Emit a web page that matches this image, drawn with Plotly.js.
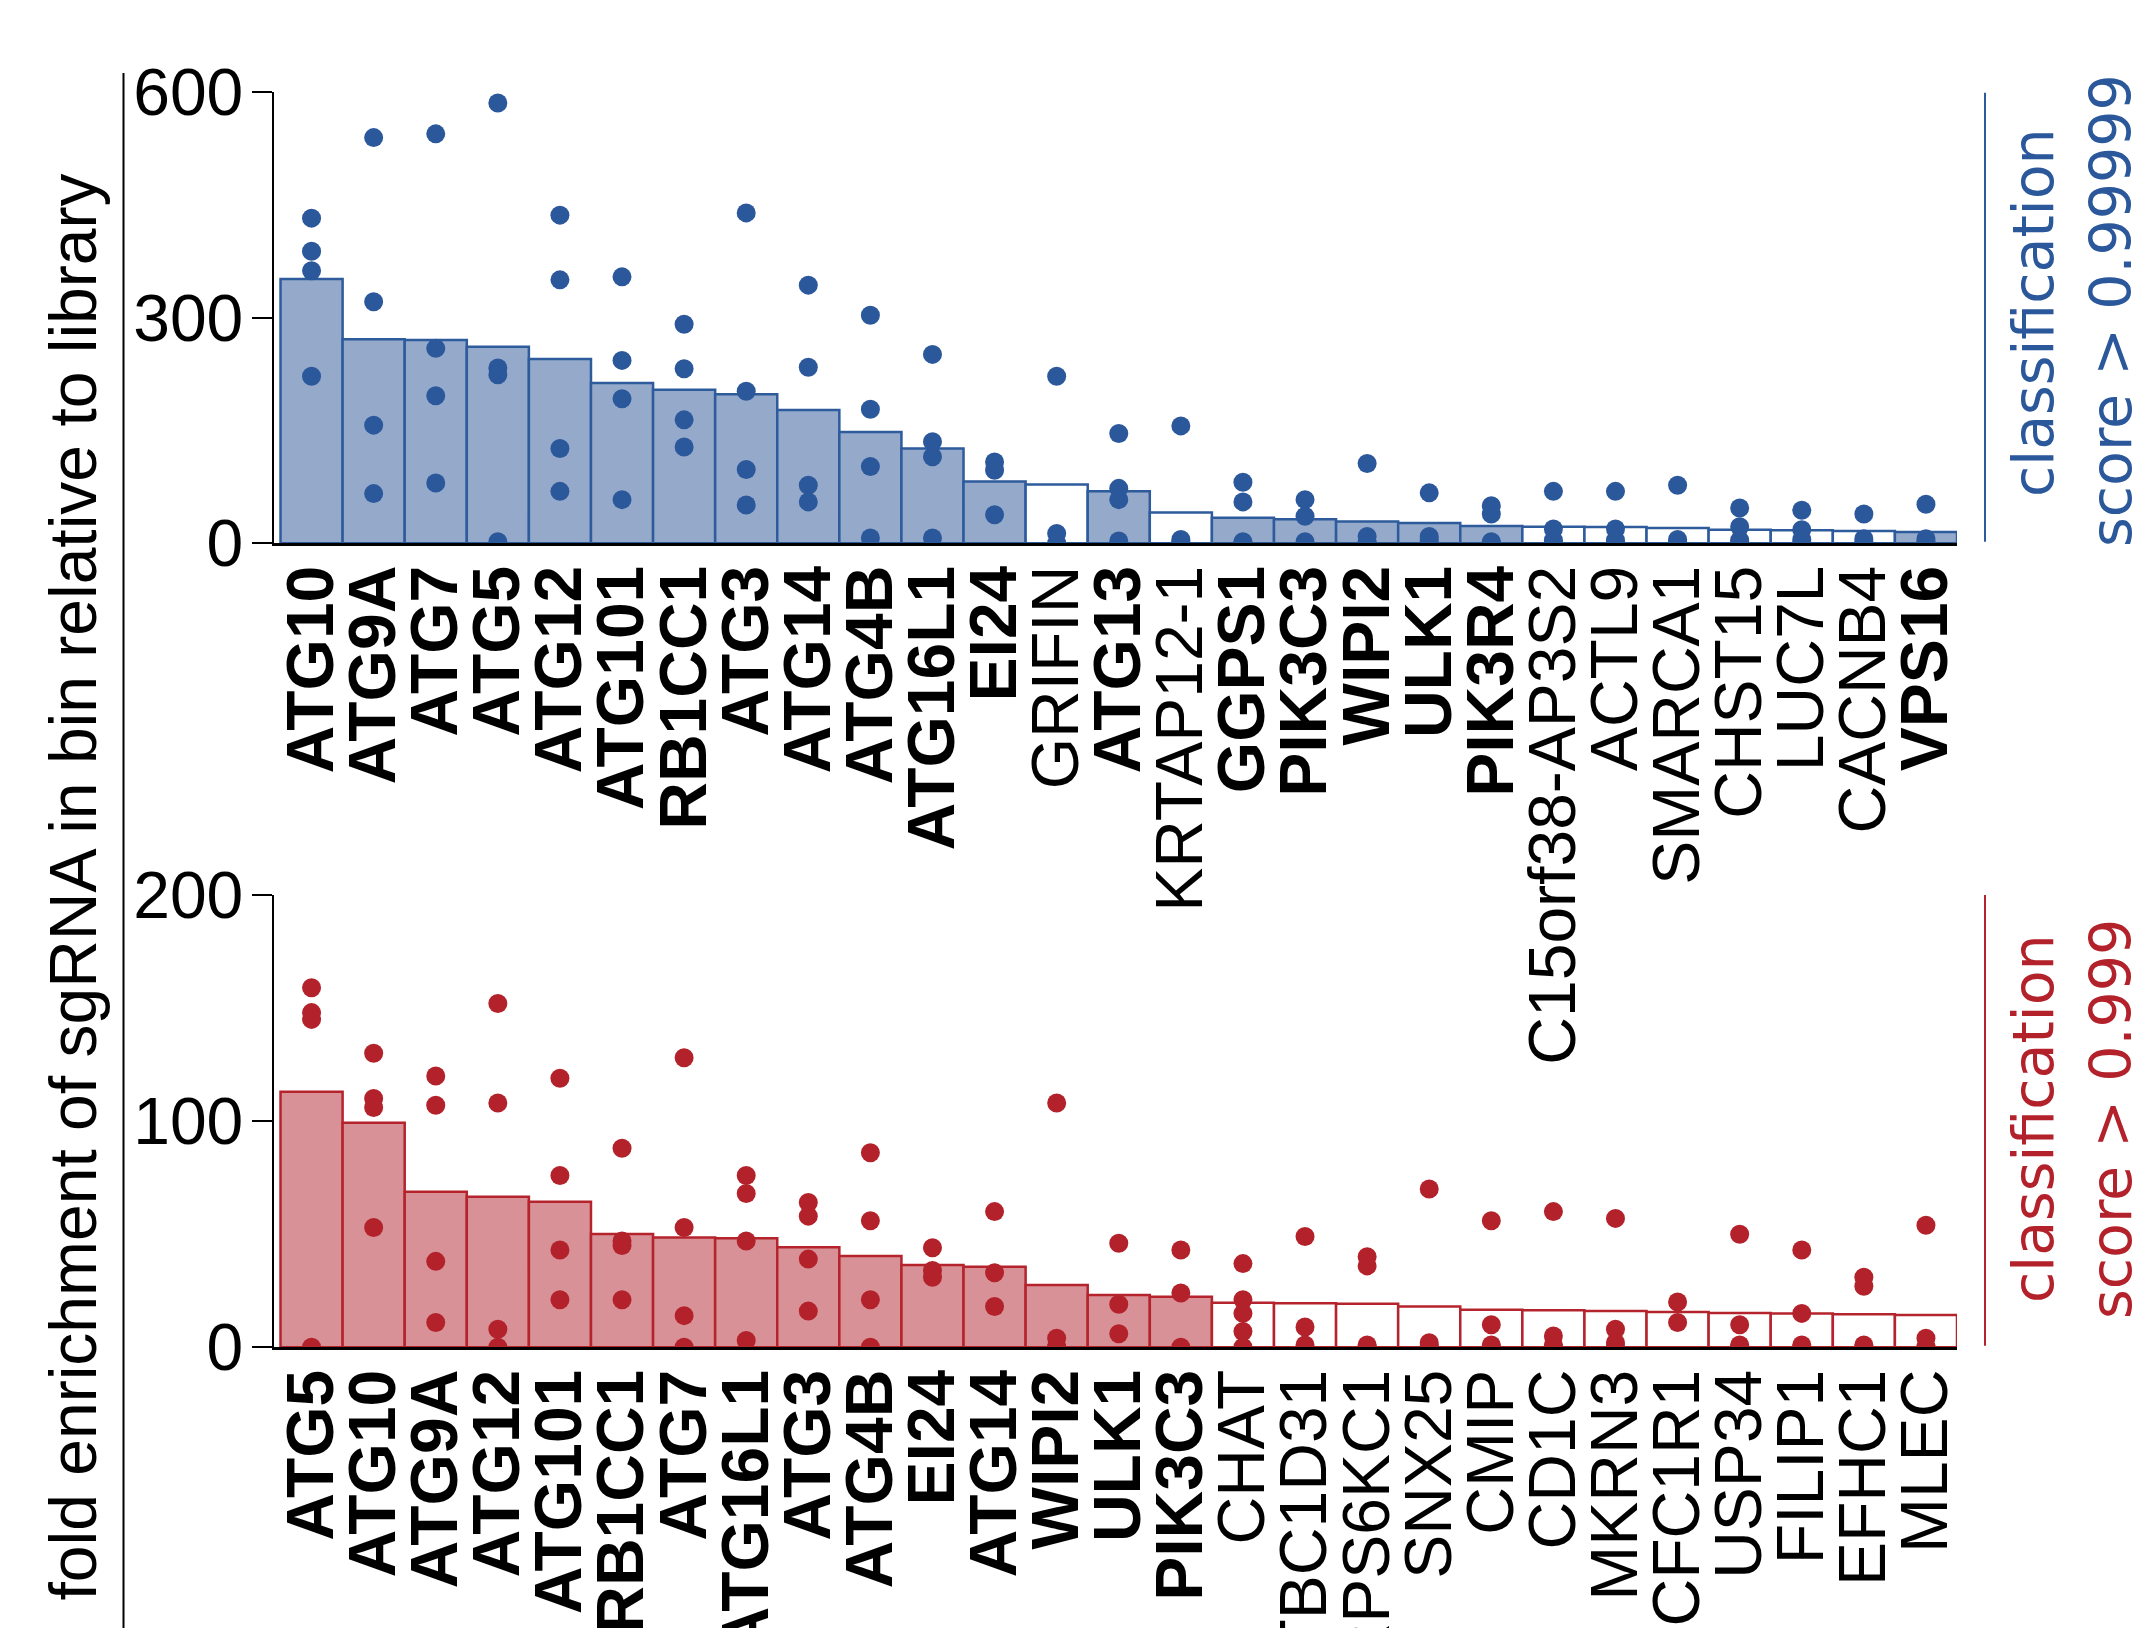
<!DOCTYPE html>
<html>
<head>
<meta charset="utf-8">
<script src="https://cdn.plot.ly/plotly-3.0.1.min.js"></script>
<style>html,body{margin:0;padding:0;background:#fff;}#chart{width:2140px;height:1628px;}</style>
</head>
<body>
<div id="chart"></div>
<script>
// ---------- data ----------
const topGenes = ['ATG10','ATG9A','ATG7','ATG5','ATG12','ATG101','RB1CC1','ATG3','ATG14','ATG4B','ATG16L1','EI24','GRIFIN','ATG13','KRTAP12-1','GGPS1','PIK3C3','WIPI2','ULK1','PIK3R4','C15orf38-AP3S2','ACTL9','SMARCA1','CHST15','LUC7L','CACNB4','VPS16'];
const topHits = [1,1,1,1,1,1,1,1,1,1,1,1,0,1,0,1,1,1,1,1,0,0,0,0,0,0,1];
const topBarValues = [351,271,270,261,245,213,204,198,177,148,126,82,78,69,41,34,32,29,27,23,22,21.7,20.3,18,17.3,16.4,15];
const topGuides = [
  [432,388,362,222],[539,321,157,66],[544,259,196,80],[585,233,224,2],[436,350,126,69],
  [354,243,192,58],[291,232,164,128],[439,202,98,51],[343,234,77,55],[303,178,102,7],
  [251,135,115,7],[108,97,38],[222,13,0],[146,73,58,3],[156,5,0,0],
  [81,55,2,0],[58,36,2],[106,9,0,0],[67,9,4],[50,39,2,0],
  [69,19,4,0],[69,19,4,0],[77,5,0,0],[47,22,4,0],[44,18,5,0],[39,6,2],[52,6,0,0]
];

const botGenes = ['ATG5','ATG10','ATG9A','ATG12','ATG101','RB1CC1','ATG7','ATG16L1','ATG3','ATG4B','EI24','ATG14','WIPI2','ULK1','PIK3C3','CHAT','TBC1D31','RPS6KC1','SNX25','CMIP','CD1C','MKRN3','HCFC1R1','USP34','FILIP1','EFHC1','MLEC'];
const botHits = [1,1,1,1,1,1,1,1,1,1,1,1,1,1,1,0,0,0,0,0,0,0,0,0,0,0,0];
const botBarValues = [113,99.3,68.8,66.6,64.4,50.1,48.6,48.2,44.2,40.4,36.4,35.6,27.5,23.1,22.4,19.7,19.5,19.3,18,16.6,16.4,16,15.6,15.2,14.9,14.6,14.3];
const botGuides = [
  [159,148,145,0],[130,110,106,53],[120,107,38,11],[152,108,8,0],[119,76,43,21],
  [88,47,45,21],[128,53,14,0],[76,68,47,3],[64,58,39,16],[86,56,21,0],
  [44,34,31],[60,33,18],[108,4,0,0],[46,19,6],[43,24,0],
  [37,21,15,7,0],[49,9,1],[40,36,1,0],[70,2,0,0],[56,10,1,0],
  [60,5,1,0],[57,8,2,0],[20,11],[50,10,1,0],[43,15,1,0],[31,27,1,0],[54,4,0,0]
];

const topTickVals = [0,300,600];
const botTickVals = [0,100,200];
const yTitle = 'fold enrichment of sgRNA in bin relative to library';
const topClassLabel = ['classification','score > 0.99999'];
const botClassLabel = ['classification','score > 0.999'];

// ---------- styles ----------
const BLUE_DOT = '#2B579B', BLUE_LINE = '#2D5B9C', BLUE_FILL = '#95AACB';
const RED_DOT = '#B3222B', RED_LINE = '#B5242D', RED_FILL = '#D89196';
const FONT = 'Liberation Sans, Arial, Helvetica, sans-serif';
const W = 2140, H = 1628;
const px = v => v / W;
const py = v => (H - v) / H;

function flat(genes, guides) {
  const xs = [], ys = [];
  genes.forEach((g, i) => guides[i].forEach(v => { xs.push(g); ys.push(v); }));
  return {xs, ys};
}
const tf = flat(topGenes, topGuides);
const bf = flat(botGenes, botGuides);
const fmt = (genes, hits) => genes.map((g, i) => hits[i] ? '<b>' + g + '</b>' : g);

const traces = [
  {type:'bar', x: topGenes, y: topBarValues, xaxis:'x', yaxis:'y', width:1,
   marker:{color: topHits.map(h => h ? BLUE_FILL : '#ffffff'), line:{color: BLUE_LINE, width:2.5}},
   hoverinfo:'skip', showlegend:false},
  {type:'scatter', mode:'markers', x: tf.xs, y: tf.ys, xaxis:'x', yaxis:'y',
   marker:{color: BLUE_DOT, size:19, line:{width:0}}, cliponaxis:true, showlegend:false},
  {type:'bar', x: botGenes, y: botBarValues, xaxis:'x2', yaxis:'y2', width:1,
   marker:{color: botHits.map(h => h ? RED_FILL : '#ffffff'), line:{color: RED_LINE, width:2.5}},
   hoverinfo:'skip', showlegend:false},
  {type:'scatter', mode:'markers', x: bf.xs, y: bf.ys, xaxis:'x2', yaxis:'y2',
   marker:{color: RED_DOT, size:19, line:{width:0}}, cliponaxis:true, showlegend:false}
];

const xDomain = [px(273.5), px(1957)];
function xAxis(genes, hits, anchor) {
  return {domain: xDomain, anchor: anchor, type:'category', range:[-0.613, 26.5],
    showline:true, linecolor:'#000', linewidth:3, ticks:'', showgrid:false, zeroline:false,
    tickmode:'array', tickvals: genes, ticktext: fmt(genes, hits), tickangle:-90, ticklabelstandoff:-7,
    tickfont:{family: FONT, size:66, color:'#000'}, fixedrange:true};
}
function yAxis(domain, range, vals, anchor) {
  return {domain: domain, anchor: anchor, range: range, tickmode:'array', tickvals: vals,
    ticks:'outside', ticklen:20, tickwidth:2, tickcolor:'#000', showline:true, linecolor:'#000', linewidth:2,
    ticklabelstandoff:-5,
    showgrid:false, zeroline:false, tickfont:{family: FONT, size:66, color:'#000'}, fixedrange:true};
}

const layout = {
  width: W, height: H, margin:{l:0, r:0, t:0, b:0, pad:0},
  paper_bgcolor:'#fff', plot_bgcolor:'rgba(0,0,0,0)', showlegend:false, bargap:0,
  xaxis: xAxis(topGenes, topHits, 'y'),
  yaxis: yAxis([py(543.3), py(91.7)], [0,600], topTickVals, 'x'),
  xaxis2: xAxis(botGenes, botHits, 'y2'),
  yaxis2: yAxis([py(1347.3), py(895)], [0,200], botTickVals, 'x2'),
  shapes: [
    {type:'line', xref:'paper', yref:'paper', x0:px(123.5), x1:px(123.5), y0:0, y1:py(73), line:{color:'#000', width:2}},
    {type:'line', xref:'paper', yref:'paper', x0:px(1985), x1:px(1985), y0:py(541.7), y1:py(92.7), line:{color:BLUE_LINE, width:2}},
    {type:'line', xref:'paper', yref:'paper', x0:px(1985), x1:px(1985), y0:py(1345.7), y1:py(895), line:{color:RED_LINE, width:2}}
  ],
  annotations: [
    {text: yTitle, xref:'paper', yref:'paper', x:px(72), y:py(887.5), xanchor:'center', yanchor:'middle',
     textangle:-90, showarrow:false, font:{family: FONT, size:66, color:'#000'}},
    {text: topClassLabel[0], xref:'paper', yref:'paper', x:px(2033), y:py(313), xanchor:'center', yanchor:'middle',
     textangle:-90, showarrow:false, font:{family:'DejaVu Sans', size:57, color:BLUE_DOT}},
    {text: topClassLabel[1], xref:'paper', yref:'paper', x:px(2111), y:py(311), xanchor:'center', yanchor:'middle',
     textangle:-90, showarrow:false, font:{family:'DejaVu Sans', size:57, color:BLUE_DOT}},
    {text: botClassLabel[0], xref:'paper', yref:'paper', x:px(2033), y:py(1119), xanchor:'center', yanchor:'middle',
     textangle:-90, showarrow:false, font:{family:'DejaVu Sans', size:57, color:RED_DOT}},
    {text: botClassLabel[1], xref:'paper', yref:'paper', x:px(2111), y:py(1119), xanchor:'center', yanchor:'middle',
     textangle:-90, showarrow:false, font:{family:'DejaVu Sans', size:57, color:RED_DOT}}
  ]
};

Plotly.newPlot('chart', traces, layout, {staticPlot:true, displayModeBar:false});
</script>
</body>
</html>
